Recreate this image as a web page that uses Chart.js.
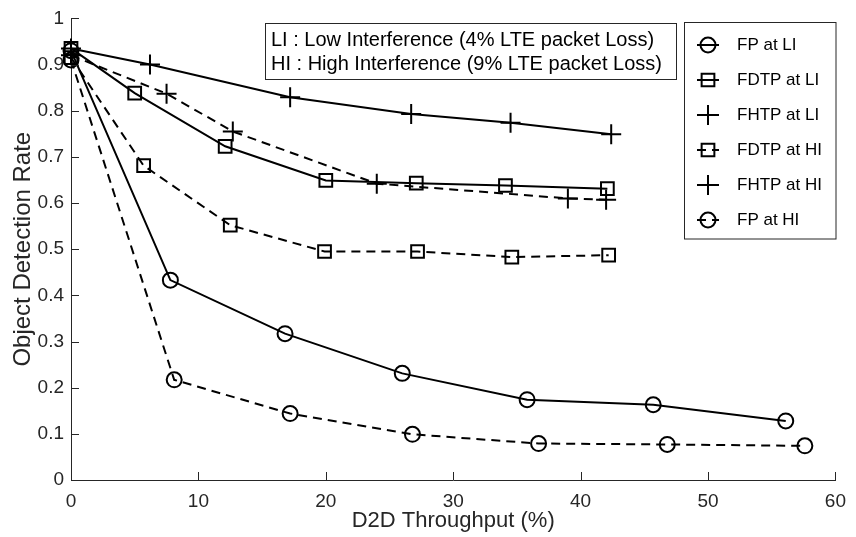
<!DOCTYPE html>
<html>
<head>
<meta charset="utf-8">
<script src="https://cdn.jsdelivr.net/npm/chart.js@4.4.0/dist/chart.umd.min.js"></script>
<style>
html, body { margin: 0; padding: 0; background: #fff; }
#wrap { width: 856px; height: 537px; }
</style>
</head>
<body>
<div id="wrap"><canvas id="chart0" width="856" height="537"></canvas></div>
<script>
// values
var fpLiX = [0, 7.8, 16.8, 26.0, 35.8, 45.7, 56.1];
var fpLiY = [0.93, 0.433, 0.317, 0.231, 0.174, 0.163, 0.128];

var fdtpLiX = [0, 5.0, 12.1, 20.0, 27.1, 34.1, 42.1];
var fdtpLiY = [0.935, 0.838, 0.723, 0.649, 0.643, 0.638, 0.631];

var fhtpLiX = [0, 6.2, 17.2, 26.7, 34.5, 42.4];
var fhtpLiY = [0.935, 0.90, 0.829, 0.793, 0.774, 0.749];

var fdtpHiX = [0, 5.7, 12.5, 19.9, 27.2, 34.6, 42.2];
var fdtpHiY = [0.915, 0.681, 0.552, 0.495, 0.495, 0.483, 0.487];

var fhtpHiX = [0, 7.5, 12.7, 24.0, 39.0, 42.0];
var fhtpHiY = [0.92, 0.837, 0.755, 0.642, 0.610, 0.607];

var fpHiX = [0, 8.1, 17.2, 26.8, 36.7, 46.8, 57.6];
var fpHiY = [0.91, 0.217, 0.144, 0.099, 0.079, 0.077, 0.074];

var seriesNames = ["FP at LI", "FDTP at LI", "FHTP at LI", "FDTP at HI", "FHTP at HI", "FP at HI"];
var noteLines = ["LI : Low Interference (4% LTE packet Loss)", "HI : High Interference (9% LTE packet Loss)"];
var xTitle = "D2D Throughput (%)";
var yTitle = "Object Detection Rate";

var fontFam = "'Liberation Sans', Arial, Helvetica, sans-serif";
var axisColor = "#262626";
var dashed = [9, 6];

function pts(xs, ys) {
	return xs.map((x, i) => ({ x: x, y: ys[i] }));
}

function makeSet(label, xs, ys, marker, radius, dash) {
	return {
		label: label,
		data: pts(xs, ys),
		borderColor: "#000",
		backgroundColor: "rgba(0,0,0,0)",
		borderWidth: 2,
		borderDash: dash,
		pointStyle: marker,
		pointRadius: radius,
		pointHoverRadius: radius,
		pointBorderWidth: 2,
		pointBorderColor: "#000",
		pointBackgroundColor: "rgba(0,0,0,0)",
		tension: 0,
		fill: false,
		clip: false
	};
}

var extras = {
	id: "extras",
	afterDraw: function(chart) {
		var ctx = chart.ctx;
		var xs = chart.scales.x;
		var ys = chart.scales.y;
		var area = chart.chartArea;
		ctx.save();

		// inward tick marks
		ctx.strokeStyle = axisColor;
		ctx.lineWidth = 1;
		ctx.setLineDash([]);
		ctx.beginPath();
		xs.ticks.forEach(function(t) {
			var px = Math.round(xs.getPixelForValue(t.value)) + 0.5;
			ctx.moveTo(px, area.bottom);
			ctx.lineTo(px, area.bottom - 8);
		});
		ys.ticks.forEach(function(t) {
			var py = Math.round(ys.getPixelForValue(t.value)) + 0.5;
			ctx.moveTo(area.left, py);
			ctx.lineTo(area.left + 8, py);
		});
		ctx.stroke();

		// note box
		ctx.fillStyle = "#fff";
		ctx.fillRect(266, 24, 410, 56);
		ctx.strokeRect(265.5, 23.5, 411, 56);
		ctx.fillStyle = "#000";
		ctx.font = "20px " + fontFam;
		ctx.textBaseline = "middle";
		ctx.textAlign = "left";
		ctx.fillText(noteLines[0], 271, 40);
		ctx.fillText(noteLines[1], 271, 64);

		// legend box
		ctx.fillStyle = "#fff";
		ctx.fillRect(685, 23, 151, 216);
		ctx.strokeStyle = axisColor;
		ctx.lineWidth = 1;
		ctx.strokeRect(684.5, 22.5, 151.5, 216.5);
		chart.data.datasets.forEach(function(ds, i) {
			var cy = 45 + i * 35;
			ctx.strokeStyle = "#000";
			ctx.lineWidth = 2;
			ctx.setLineDash(ds.borderDash || []);
			ctx.beginPath();
			ctx.moveTo(697, cy);
			ctx.lineTo(719, cy);
			ctx.stroke();
			ctx.setLineDash([]);
			ctx.fillStyle = "rgba(0,0,0,0)";
			Chart.helpers.drawPoint(ctx, { pointStyle: ds.pointStyle, radius: ds.pointRadius, rotation: 0, borderWidth: 2 }, 708, cy);
			ctx.fillStyle = "#000";
			ctx.font = "17px " + fontFam;
			ctx.fillText(ds.label, 737, cy);
		});
		ctx.restore();
	}
};

function plotChart() {
	var chart0 = new Chart("chart0", {
		type: "line",
		data: {
			datasets: [
				makeSet(seriesNames[0], fpLiX, fpLiY, "circle", 7.5, []),
				makeSet(seriesNames[1], fdtpLiX, fdtpLiY, "rect", 9, []),
				makeSet(seriesNames[2], fhtpLiX, fhtpLiY, "cross", 10, []),
				makeSet(seriesNames[3], fdtpHiX, fdtpHiY, "rect", 9, dashed),
				makeSet(seriesNames[4], fhtpHiX, fhtpHiY, "cross", 10, dashed),
				makeSet(seriesNames[5], fpHiX, fpHiY, "circle", 7.5, dashed)
			]
		},
		options: {
			responsive: false,
			animation: false,
			layout: { padding: { top: 14, right: 14, left: 0, bottom: 0 } },
			plugins: {
				legend: { display: false },
				tooltip: { enabled: false }
			},
			scales: {
				x: {
					type: "linear",
					min: 0,
					max: 60,
					ticks: { stepSize: 10, color: axisColor, padding: 10, font: { family: fontFam, size: 19 } },
					grid: { display: true, drawOnChartArea: false, drawTicks: false },
					border: { color: axisColor, width: 1 },
					title: { display: true, text: xTitle, color: axisColor, font: { family: fontFam, size: 22 }, padding: { top: 0, bottom: 3 } },
					afterFit: function(s) { s.height = 57; }
				},
				y: {
					type: "linear",
					min: 0,
					max: 1,
					ticks: {
						stepSize: 0.1,
						color: axisColor,
						padding: 7,
						font: { family: fontFam, size: 19 },
						callback: function(v) { return (v === 0 || v === 1) ? String(v) : v.toFixed(1); }
					},
					grid: { display: true, drawOnChartArea: false, drawTicks: false },
					border: { color: axisColor, width: 1 },
					title: { display: true, text: yTitle, color: axisColor, font: { family: fontFam, size: 24 }, padding: { top: 9, bottom: 0 } },
					afterFit: function(s) { s.width = 71; }
				}
			}
		},
		plugins: [extras]
	});
}

plotChart();
</script>
</body>
</html>
